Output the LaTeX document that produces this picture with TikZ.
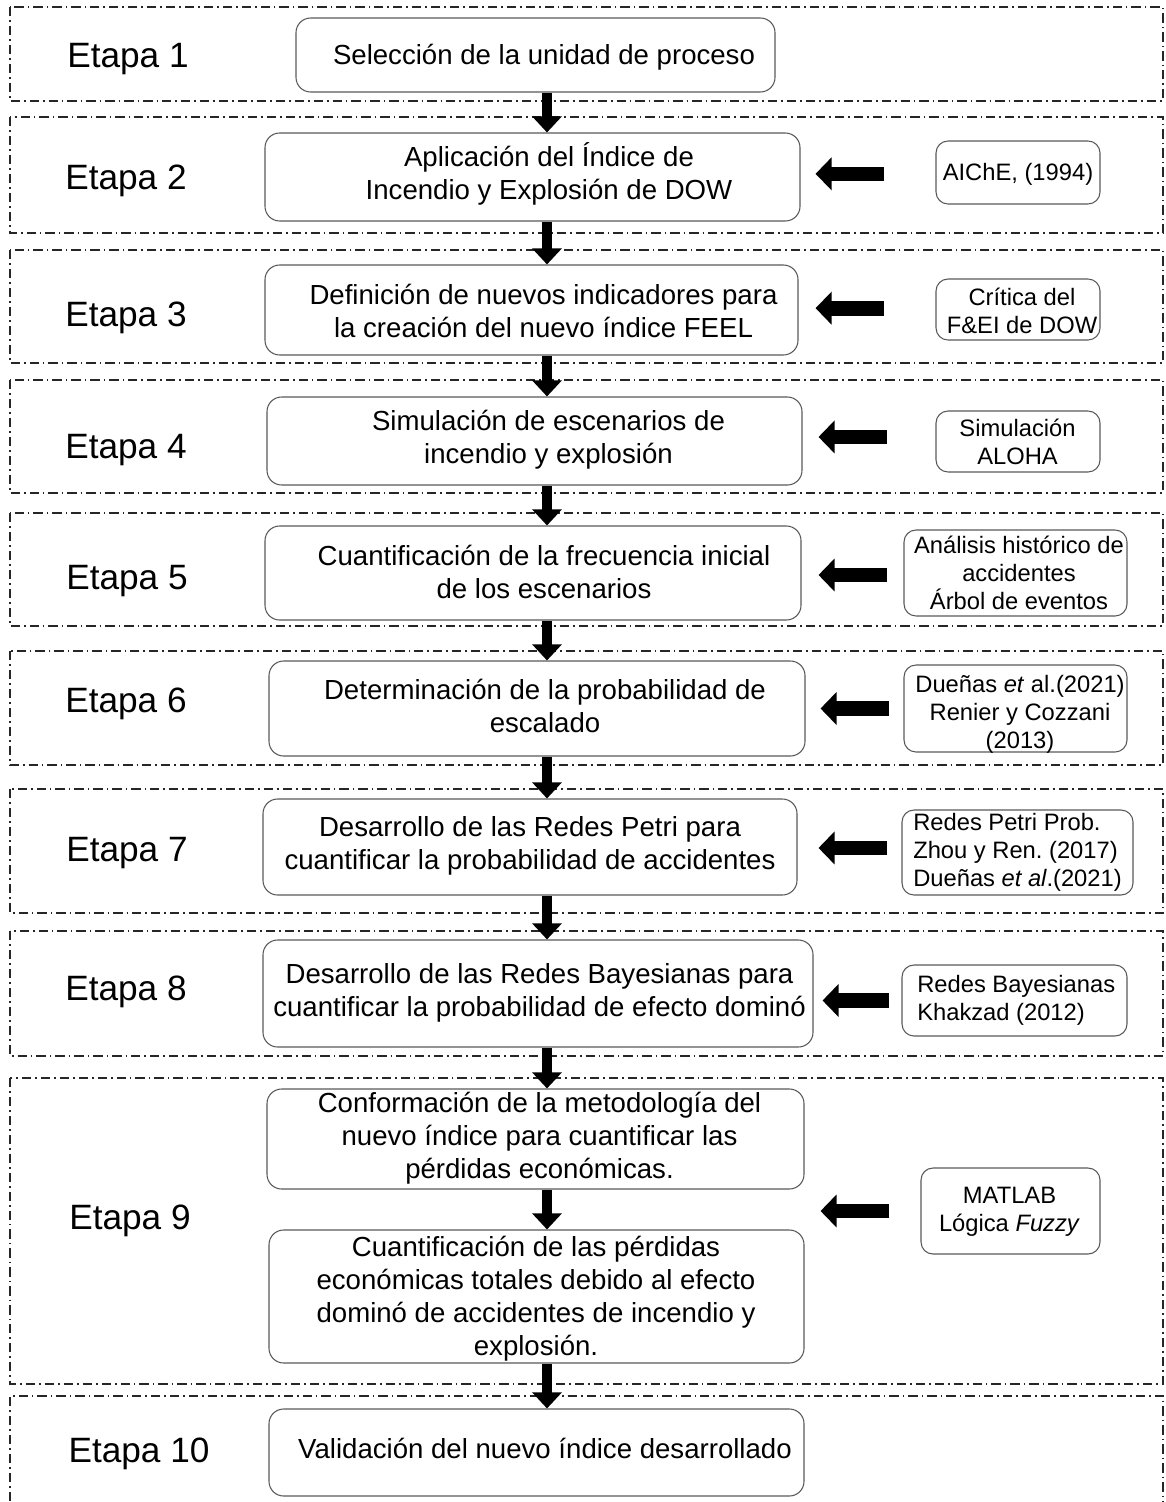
\documentclass[tikz,border=0pt]{standalone}
\usepackage{fontspec}
\setmainfont{Liberation Sans}
\usetikzlibrary{arrows.meta}
\begin{document}
\begin{tikzpicture}[x=0.75pt,y=-0.75pt,
  frame/.style={draw=black!85, line width=1.2pt, dash pattern=on 7pt off 3pt on 1.2pt off 3pt},
  mbox/.style={draw=black!65, line width=0.8pt, rounded corners=11pt, inner sep=0pt},
  sbox/.style={draw=black!65, line width=0.8pt, rounded corners=9pt, inner sep=0pt},
  mtxt/.style={inner sep=0pt, align=center, font=\fontsize{20.7pt}{24.75pt}\selectfont},
  stxt/.style={inner sep=0pt, align=center, font=\fontsize{17.8pt}{21pt}\selectfont},
  etapa/.style={inner sep=0pt, font=\fontsize{26.4pt}{30pt}\selectfont},
  varrow/.style={line width=7pt, -{Triangle[length=12pt,width=21.5pt]}},
  harrow/.style={line width=11pt, -{Triangle[length=12pt,width=24pt]}}]
\useasboundingbox (0,0) rectangle (1166,1502);
\clip (0,0) rectangle (1166,1502);
% stage frames
\draw[frame] (10,7) rectangle (1163,101);
\draw[frame] (10,117) rectangle (1163,233);
\draw[frame] (10,250) rectangle (1163,363);
\draw[frame] (10,380) rectangle (1163,493);
\draw[frame] (10,513) rectangle (1163,626);
\draw[frame] (10,651) rectangle (1163,765);
\draw[frame] (10,789) rectangle (1163,913);
\draw[frame] (10,931) rectangle (1163,1056);
\draw[frame] (10,1078) rectangle (1163,1384);
\draw[frame] (10,1520) -- (10,1396) -- (1163,1396) -- (1163,1520);
% stage labels
\node[etapa] (e1) at (128,59) {Etapa 1};
\node[etapa] (e2) at (126,181) {Etapa 2};
\node[etapa] (e3) at (126,318) {Etapa 3};
\node[etapa] (e4) at (126,450) {Etapa 4};
\node[etapa] (e5) at (127,581) {Etapa 5};
\node[etapa] (e6) at (126,704) {Etapa 6};
\node[etapa] (e7) at (127,853) {Etapa 7};
\node[etapa] (e8) at (126,992) {Etapa 8};
\node[etapa] (e9) at (130,1221) {Etapa 9};
\node[etapa] (e10) at (139,1454) {Etapa 10};
% main boxes
\node[mbox, minimum width=359.25pt, minimum height=55.5pt] (m1) at (535.5,55) {};
\node[mtxt] (t1) at (544,57) {Selección de la unidad de proceso};
\node[mbox, minimum width=401.25pt, minimum height=66pt] (m2) at (532.5,177) {};
\node[mtxt] (t2) at (549,174) {Aplicación del Índice de\\Incendio y Explosión de DOW};
\node[mbox, minimum width=399.75pt, minimum height=67.5pt] (m3) at (531.5,310) {};
\node[mtxt] (t3) at (543.5,311) {Definición de nuevos indicadores para\\la creación del nuevo índice FEEL};
\node[mbox, minimum width=401.25pt, minimum height=66pt] (m4) at (534.5,441) {};
\node[mtxt] (t4) at (548.5,440) {Simulación de escenarios de\\incendio y explosión};
\node[mbox, minimum width=402pt, minimum height=70.5pt] (m5) at (533,573) {};
\node[mtxt] (t5) at (544,572) {Cuantificación de la frecuencia inicial\\de los escenarios};
\node[mbox, minimum width=402pt, minimum height=71.25pt] (m6) at (537,708.5) {};
\node[mtxt] (t6) at (545,706) {Determinación de la probabilidad de\\escalado};
\node[mbox, minimum width=400.5pt, minimum height=72pt] (m7) at (530,847) {};
\node[mtxt] (t7) at (530,845.5) {Desarrollo de las Redes Petri para\\cuantificar la probabilidad de accidentes};
\node[mbox, minimum width=412.5pt, minimum height=80.25pt] (m8) at (538,993.5) {};
\node[mtxt] (t8) at (539.5,993) {Desarrollo de las Redes Bayesianas para\\cuantificar la probabilidad de efecto dominó};
\node[mbox, minimum width=402.75pt, minimum height=75pt] (m9a) at (535.5,1139) {};
\node[mtxt] (t9a) at (539.5,1138) {Conformación de la metodología del\\nuevo índice para cuantificar las\\pérdidas económicas.};
\node[mbox, minimum width=401.25pt, minimum height=99.75pt] (m9b) at (536.5,1296.5) {};
\node[mtxt] (t9b) at (536,1298.5) {Cuantificación de las pérdidas\\económicas totales debido al efecto\\dominó de accidentes de incendio y\\explosión.};
\node[mbox, minimum width=401.25pt, minimum height=65.25pt] (m10) at (536.5,1452.5) {};
\node[mtxt] (t10) at (545,1448) {Validación del nuevo índice desarrollado};
% side boxes
\node[sbox, minimum width=123pt, minimum height=47.25pt] (s2) at (1018,172.5) {};
\node[stxt] (u2) at (1018,174) {AIChE, (1994)};
\node[sbox, minimum width=123pt, minimum height=45.75pt] (s3) at (1018,309.5) {};
\node[stxt] (u3) at (1022,310.5) {Crítica del\\F\&EI de DOW};
\node[sbox, minimum width=123pt, minimum height=45.75pt] (s4) at (1018,441.5) {};
\node[stxt] (u4) at (1017.5,442) {Simulación\\ALOHA};
\node[sbox, minimum width=167.25pt, minimum height=64.5pt] (s5) at (1015.5,573) {};
\node[stxt] (u5) at (1019,573) {Análisis histórico de\\accidentes\\Árbol de eventos};
\node[sbox, minimum width=167.25pt, minimum height=65.25pt] (s6) at (1015.5,708.5) {};
\node[stxt] (u6) at (1020,714) {Dueñas \textit{et} al.(2021)\\Renier y Cozzani\\(2013)};
\node[sbox, minimum width=173.25pt, minimum height=63.75pt] (s7) at (1017.5,852.5) {};
\node[stxt, anchor=west, align=left] (u7) at (913,852.5) {Redes Petri Prob.\\Zhou y Ren.\ (2017)\\Dueñas \textit{et al}.(2021)};
\node[sbox, minimum width=168.75pt, minimum height=53.25pt] (s8) at (1014.5,1000.5) {};
\node[stxt, anchor=west, align=left] (u8) at (917,1000.5) {Redes Bayesianas\\Khakzad (2012)};
\node[sbox, minimum width=134.25pt, minimum height=64.5pt] (s9) at (1010.5,1211) {};
\node[stxt] (u9) at (1009.5,1211.5) {MATLAB\\Lógica \textit{Fuzzy}};
% vertical arrows
\coordinate (ax) at (547,0);
\draw[varrow] (m1.south -| ax) -- (m2.north -| ax);
\draw[varrow] (m2.south -| ax) -- (m3.north -| ax);
\draw[varrow] (m3.south -| ax) -- (m4.north -| ax);
\draw[varrow] (m4.south -| ax) -- (m5.north -| ax);
\draw[varrow] (m5.south -| ax) -- (m6.north -| ax);
\draw[varrow] (m6.south -| ax) -- (m7.north -| ax);
\draw[varrow] (m7.south -| ax) -- (m8.north -| ax);
\draw[varrow] (m8.south -| ax) -- (m9a.north -| ax);
\draw[varrow] (m9a.south -| ax) -- (m9b.north -| ax);
\draw[varrow] (m9b.south -| ax) -- (m10.north -| ax);
% horizontal arrows
\draw[harrow, shorten <=38.25pt, shorten >=11.25pt] ([yshift=-1pt]s2.west) -- ([yshift=-1pt]s2.west -| m2.east);
\draw[harrow, shorten <=38.25pt, shorten >=12.75pt] ([yshift=1pt]s3.west) -- ([yshift=1pt]s3.west -| m3.east);
\draw[harrow, shorten <=36pt, shorten >=12pt] ([yshift=3.4pt]s4.west) -- ([yshift=3.4pt]s4.west -| m4.east);
\draw[harrow, shorten <=12pt, shorten >=12.75pt] ([yshift=-1.5pt]s5.west) -- ([yshift=-1.5pt]s5.west -| m5.east);
\draw[harrow, shorten <=10.5pt, shorten >=11.25pt] (s6.west) -- (s6.west -| m6.east);
\draw[harrow, shorten <=10.5pt, shorten >=15.75pt] ([yshift=3.4pt]s7.west) -- ([yshift=3.4pt]s7.west -| m7.east);
\draw[harrow, shorten <=9pt, shorten >=6.75pt] (s8.west) -- (s8.west -| m8.east);
\draw[harrow, shorten <=23.25pt, shorten >=12pt] (s9.west) -- (s9.west -| m9a.east);
\end{tikzpicture}
\end{document}
